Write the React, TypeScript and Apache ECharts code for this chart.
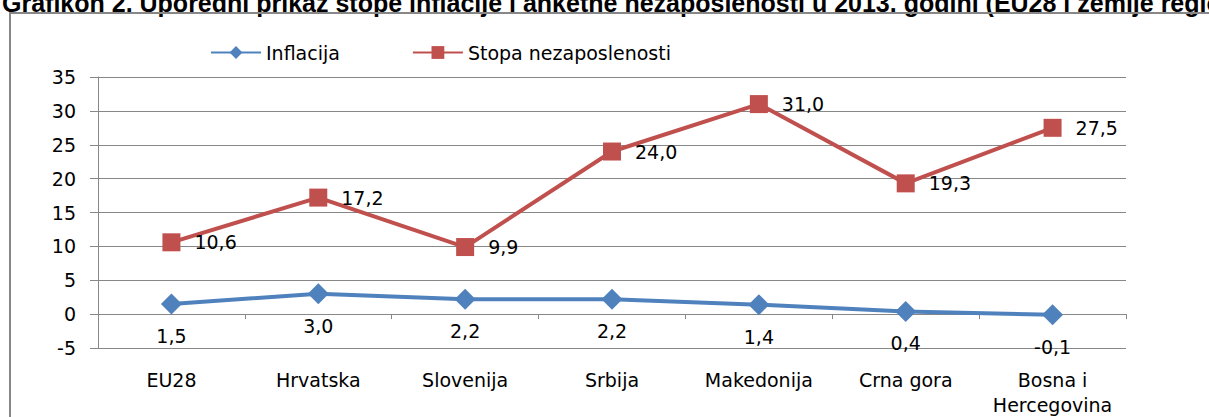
import React, { useEffect, useRef } from "react";
import * as echarts from "echarts";

const categories = ["EU28", "Hrvatska", "Slovenija", "Srbija", "Makedonija", "Crna gora", "Bosna i\nHercegovina"];
const inflacija = [1.5, 3.0, 2.2, 2.2, 1.4, 0.4, -0.1];
const nezaposlenost = [10.6, 17.2, 9.9, 24.0, 31.0, 19.3, 27.5];
const titleText = "Grafikon 2. Uporedni prikaz stope inflacije i anketne nezaposlenosti u 2013. godini (EU28 i zemlje regiona)";

const FONT = "DejaVu Sans";
const GRAY = "#878787";

export default function App() {
  const ref = useRef<HTMLDivElement>(null);
  useEffect(() => {
    if (!ref.current) return;
    const chart = echarts.init(ref.current, undefined, { renderer: "svg" });
    const fmt = (p: any) => Number(p.value).toFixed(1).replace(".", ",");
    chart.setOption({
      animation: false,
      backgroundColor: "#ffffff",
      textStyle: { fontFamily: FONT },
      graphic: [
        {
          type: "text",
          left: 2,
          top: -10,
          style: { text: titleText, font: "bold 25px 'Liberation Sans', Arial", fill: "#000" },
        },
        {
          type: "rect",
          shape: { x: 10, y: 13, width: 1300, height: 500 },
          style: { fill: "none", stroke: GRAY, lineWidth: 2 },
        },
      ],
      legend: {
        left: 205,
        top: 38,
        itemWidth: 50,
        itemHeight: 16,
        itemGap: 72,
        textStyle: { fontFamily: FONT, fontSize: 19, color: "#000" },
        data: ["Inflacija", "Stopa nezaposlenosti"],
      },
      grid: { left: 98, right: 83, top: 77, bottom: 65.5 },
      xAxis: [
        {
          type: "category",
          data: categories,
          position: "bottom",
          axisLine: { show: false, onZero: false },
          axisTick: { show: false },
          axisLabel: { fontFamily: FONT, fontSize: 19, color: "#000", margin: 19, lineHeight: 25, interval: 0 },
        },
        {
          type: "category",
          data: categories,
          position: "bottom",
          axisLine: { show: true, onZero: true, lineStyle: { color: GRAY, width: 1 } },
          axisTick: { show: true, length: 5, lineStyle: { color: GRAY } },
          axisLabel: { show: false },
        },
      ],
      yAxis: {
        type: "value",
        min: -5,
        max: 35,
        interval: 5,
        axisLine: { show: true, lineStyle: { color: GRAY } },
        axisTick: { show: true, length: 8, lineStyle: { color: GRAY } },
        splitLine: { show: true, lineStyle: { color: GRAY, width: 1 } },
        axisLabel: { fontFamily: FONT, fontSize: 19, color: "#000", margin: 22 },
      },
      series: [
        {
          name: "Inflacija",
          type: "line",
          data: inflacija,
          xAxisIndex: 0,
          color: "#4F81BD",
          lineStyle: { width: 4, color: "#4F81BD" },
          symbol: "diamond",
          symbolSize: 21,
          itemStyle: { color: "#4F81BD" },
          label: { show: true, position: "bottom", distance: 12, formatter: fmt, fontFamily: FONT, fontSize: 19, color: "#000" },
        },
        {
          name: "Stopa nezaposlenosti",
          type: "line",
          data: nezaposlenost,
          xAxisIndex: 0,
          color: "#C0504D",
          lineStyle: { width: 4, color: "#C0504D" },
          symbol: "rect",
          symbolSize: 18,
          itemStyle: { color: "#C0504D" },
          label: { show: true, position: "right", distance: 14, formatter: fmt, fontFamily: FONT, fontSize: 19, color: "#000" },
        },
      ],
    });
    return () => chart.dispose();
  }, []);
  return <div ref={ref} style={{ position: "fixed", left: 0, top: 0, width: 1209, height: 417 }} />;
}
